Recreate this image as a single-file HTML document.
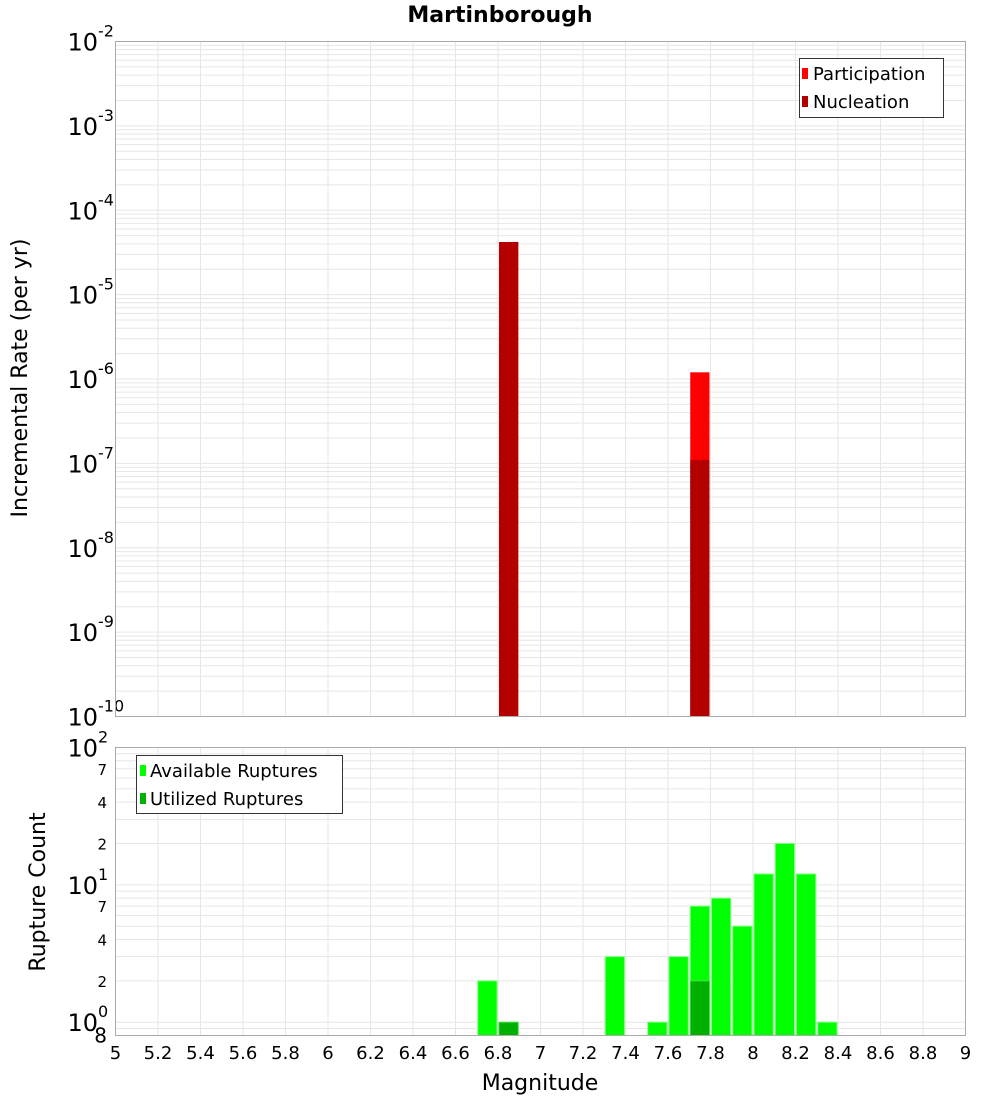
<!DOCTYPE html>
<html><head><meta charset="utf-8"><style>
html,body{margin:0;padding:0;background:#fff;}
svg text{font-family:"DejaVu Sans","Liberation Sans",sans-serif;}
</style></head><body>
<svg id="chart" width="1000" height="1100" xmlns="http://www.w3.org/2000/svg">
<text x="500" y="22" text-anchor="middle" font-size="22" font-weight="bold">Martinborough</text>
<g id="topPlot"></g>
<g id="botPlot"></g>
<text transform="translate(27,378) rotate(-90)" text-anchor="middle" font-size="22">Incremental Rate (per yr)</text>
<text transform="translate(45,892) rotate(-90)" text-anchor="middle" font-size="22">Rupture Count</text>
<text x="540" y="1090" text-anchor="middle" font-size="22">Magnitude</text>
</svg>
<script>
const xTicks=["5","5.2","5.4","5.6","5.8","6","6.2","6.4","6.6","6.8","7","7.2","7.4","7.6","7.8","8","8.2","8.4","8.6","8.8","9"];
const rateMags=[6.85,7.75];
const participation=[4.2e-5,1.2e-6];
const nucleation=[4.2e-5,1.1e-7];
const countMags=[6.75,6.85,7.35,7.55,7.65,7.75,7.85,7.95,8.05,8.15,8.25,8.35];
const available=[2,0,3,1,3,7,8,5,12,20,12,1];
const utilized=[0,1,0,0,0,2,0,0,0,0,0,0];

const NS="http://www.w3.org/2000/svg";
const L=115.5,R=965.5;
const x=m=>L+(m-5)/4*(R-L);
const T1=41.5,B1=716.5,yTop=v=>T1+(-2-Math.log10(v))/8*(B1-T1);
const T2=747.5,B2=1035.5,lmin=Math.log10(0.8),yBot=v=>B2-(Math.log10(v)-lmin)/(2-lmin)*(B2-T2);
function el(p,tag,a,txt){const e=document.createElementNS(NS,tag);for(const k in a)e.setAttribute(k,a[k]);if(txt!==undefined)e.textContent=txt;p.appendChild(e);return e;}
const topG=document.getElementById('topPlot'),botG=document.getElementById('botPlot');
const G="#e6e6e6";
for(let d=-10;d<-2;d++)for(let k=1;k<10;k++){const y=yTop(k*Math.pow(10,d));const g=el(topG,'line',{x1:L,x2:R,y1:y,y2:y,stroke:G,'stroke-width':1});}
for(let i=0;i<xTicks.length;i++){const xx=x(parseFloat(xTicks[i]));const g=el(topG,'line',{x1:xx,x2:xx,y1:T1,y2:B1,stroke:G});
 const g2=el(botG,'line',{x1:xx,x2:xx,y1:T2,y2:B2,stroke:G});
 const t=el(botG,'text',{x:xx,y:1059,'text-anchor':'middle','font-size':18},xTicks[i]);}
for(let d=-10;d<=-2;d++){const y=yTop(Math.pow(10,d));const t=el(topG,'text',{x:98,y:y+9,'text-anchor':'end','font-size':24},'10');
 const s=el(topG,'text',{x:98,y:y-5,'font-size':16},String(d));}
for(let i=0;i<rateMags.length;i++){const x0=x(rateMags[i]-0.05)+1,w=x(rateMags[i]+0.05)-x0-1;
 const p=el(topG,'rect',{x:x0,y:yTop(participation[i]),width:w,height:B1-yTop(participation[i]),fill:'#ff0000'});
 const n=el(topG,'rect',{x:x0,y:yTop(nucleation[i]),width:w,height:B1-yTop(nucleation[i]),fill:'#b30000'});}
const f1=el(topG,'rect',{x:L,y:T1,width:R-L,height:B1-T1,fill:'none',stroke:'#aaa'});
const lg=el(topG,'g',{});
el(lg,'rect',{x:799.5,y:58.5,width:144,height:59,fill:'#fff',stroke:'#333'});
el(lg,'rect',{x:802,y:68,width:6,height:11,fill:'#ff0000'});
el(lg,'text',{x:813,y:80,'font-size':18},'Participation');
el(lg,'rect',{x:802,y:96,width:6,height:11,fill:'#b30000'});
el(lg,'text',{x:813,y:108,'font-size':18},'Nucleation');
for(let d=-1;d<2;d++)for(let k=1;k<10;k++){const v=k*Math.pow(10,d);if(v<0.8)continue;const y=yBot(v);const g=el(botG,'line',{x1:L,x2:R,y1:y,y2:y,stroke:G});}
[[0.8,'8'],[2,'2'],[4,'4'],[7,'7'],[20,'2'],[40,'4'],[70,'7']].forEach(([v,s])=>{const t=el(botG,'text',{x:107,y:yBot(v)+(v==0.8?7:6),'text-anchor':'end','font-size':v==0.8?20:15},s);});
[0,1,2].forEach(d=>{const y=yBot(Math.pow(10,d));const t=el(botG,'text',{x:98,y:y+9,'text-anchor':'end','font-size':24},'10');
 const s=el(botG,'text',{x:98,y:y-5,'font-size':16},String(d));});
for(let i=0;i<countMags.length;i++){const x0=x(countMags[i]-0.05)+1,w=x(countMags[i]+0.05)-x0-1;
 if(available[i]>0){const a=el(botG,'rect',{x:x0,y:yBot(available[i]),width:w,height:B2-yBot(available[i]),fill:'#00ff00',stroke:'#7dff7d','stroke-width':1});}
 if(utilized[i]>0){const u=el(botG,'rect',{x:x0,y:yBot(utilized[i]),width:w,height:B2-yBot(utilized[i]),fill:'#00b000',stroke:'#44dd44','stroke-width':1});}}
const f2=el(botG,'rect',{x:L,y:T2,width:R-L,height:B2-T2,fill:'none',stroke:'#aaa'});
const lg2=el(botG,'g',{});
el(lg2,'rect',{x:136.5,y:755.5,width:206,height:58,fill:'#fff',stroke:'#333'});
el(lg2,'rect',{x:140,y:765,width:6,height:11,fill:'#00ff00'});
el(lg2,'text',{x:150,y:777,'font-size':18},'Available Ruptures');
el(lg2,'rect',{x:140,y:793,width:6,height:11,fill:'#00b000'});
el(lg2,'text',{x:150,y:805,'font-size':18},'Utilized Ruptures');
</script>
</body></html>
